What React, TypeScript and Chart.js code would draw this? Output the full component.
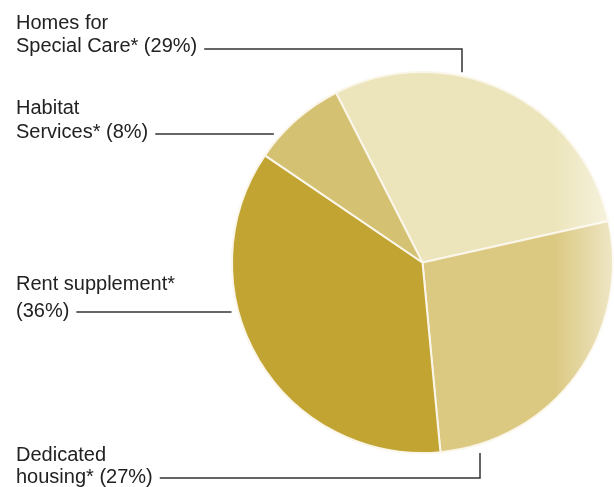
import React, { useEffect, useRef } from "react";
import { Chart, registerables } from "chart.js";

Chart.register(...registerables);

// ---- data ----
const categories = ["Homes for Special Care*", "Dedicated housing*", "Rent supplement*", "Habitat Services*"];
const shares = [29, 27, 36, 8];
const labelLines = [
  ["Homes for", "Special Care* (29%)"],
  ["Dedicated", "housing* (27%)"],
  ["Rent supplement*", "(36%)"],
  ["Habitat", "Services* (8%)"],
];
const sliceColors = ["#ece5bc", "#dbc982", "#c2a433", "#d4c171"];

// label placement (text block origin, baselines, leader style)
const labelLayout = [
  { x: 16, baselines: [29, 52], lineY: 49, kind: "top", vx: 462, gap: 4 },
  { x: 16, baselines: [461, 483], lineY: 478, kind: "bottom", vx: 480, gap: 9 },
  { x: 16, baselines: [290, 317], lineY: 312, kind: "side", vx: 0, gap: 7 },
  { x: 16, baselines: [114, 138], lineY: 134, kind: "side", vx: 0, gap: 8 },
];

const FONT = '20px "Liberation Sans", Arial, sans-serif';

const labelPlugin = {
  id: "leaderLabels",
  afterDraw(chart: any) {
    const ctx = chart.ctx;
    const meta = chart.getDatasetMeta(0);
    const arc = meta.data[0];
    if (!arc) return;
    const cx = arc.x;
    const cy = arc.y;
    const r = arc.outerRadius;

    // soft fade at right edge like the scanned original
    const g = ctx.createLinearGradient(555, 0, chart.width, 0);
    g.addColorStop(0, "rgba(255,255,255,0)");
    g.addColorStop(1, "rgba(255,255,255,0.55)");
    ctx.save();
    ctx.fillStyle = g;
    ctx.fillRect(555, 0, chart.width - 555, chart.height);
    ctx.restore();

    ctx.save();
    ctx.font = FONT;
    ctx.fillStyle = "#222";
    ctx.textBaseline = "alphabetic";
    ctx.textAlign = "left";
    ctx.strokeStyle = "#333";
    ctx.lineWidth = 1.5;
    labelLayout.forEach((L, i) => {
      const lines = labelLines[i];
      lines.forEach((t, j) => ctx.fillText(t, L.x, L.baselines[j]));
      const last = lines[lines.length - 1];
      const startX = L.x + ctx.measureText(last).width + 7;
      ctx.beginPath();
      ctx.moveTo(startX, L.lineY);
      if (L.kind === "side") {
        const dy = L.lineY - cy;
        const ex = cx - Math.sqrt(Math.max(r * r - dy * dy, 0)) - L.gap;
        ctx.lineTo(ex, L.lineY);
      } else if (L.kind === "top") {
        const dx = L.vx - cx;
        const ey = cy - Math.sqrt(Math.max(r * r - dx * dx, 0)) - L.gap;
        ctx.lineTo(L.vx, L.lineY);
        ctx.lineTo(L.vx, ey);
      } else {
        const dx = L.vx - cx;
        const ey = cy + Math.sqrt(Math.max(r * r - dx * dx, 0)) + L.gap;
        ctx.lineTo(L.vx, L.lineY);
        ctx.lineTo(L.vx, ey);
      }
      ctx.stroke();
    });
    ctx.restore();
  },
};

export default function App() {
  const ref = useRef<HTMLCanvasElement | null>(null);
  useEffect(() => {
    if (!ref.current) return;
    const chart = new Chart(ref.current, {
      type: "pie",
      data: {
        labels: categories,
        datasets: [
          {
            data: shares,
            backgroundColor: sliceColors,
            borderColor: "#fbf6ea",
            borderWidth: 2,
          },
        ],
      },
      options: {
        animation: false,
        responsive: true,
        maintainAspectRatio: false,
        rotation: -27,
        layout: { padding: { left: 231, right: 0, top: 70, bottom: 32 } },
        plugins: {
          legend: { display: false },
          tooltip: { enabled: false },
          title: { display: false },
        },
      },
      plugins: [labelPlugin],
    });
    return () => chart.destroy();
  }, []);
  return (
    <div style={{ position: "fixed", left: 0, top: 0, width: 614, height: 487, background: "#fff" }}>
      <canvas ref={ref} />
    </div>
  );
}
